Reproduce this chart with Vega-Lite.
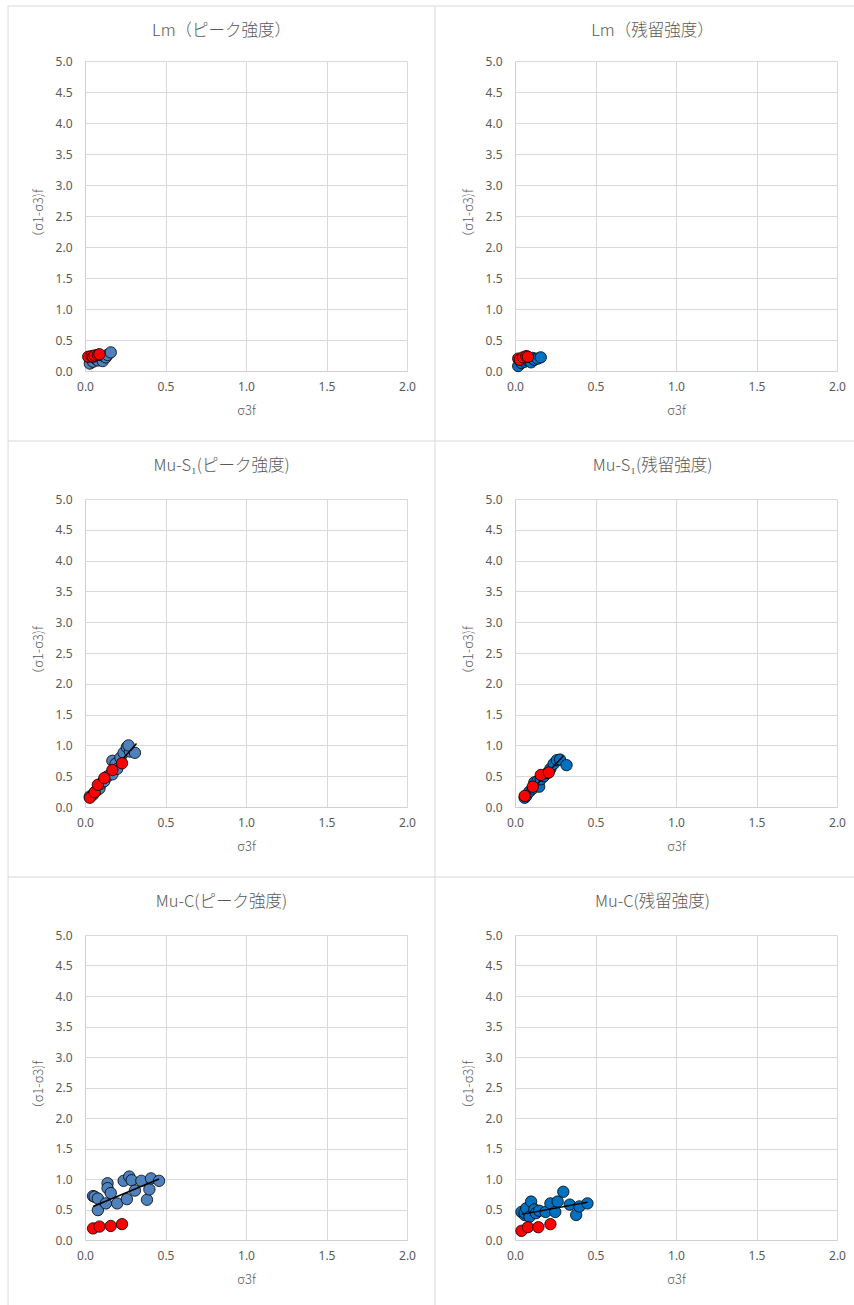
{
  "$schema": "https://vega.github.io/schema/vega-lite/v6.json",
  "background": "white",
  "padding": {"left": 7, "top": 5, "right": 0, "bottom": 0},
  "config": {
    "font": "Noto Sans",
    "view": {"stroke": null},
    "axis": {"grid": true, "labelFlush": false, "labelOverlap": false, "gridColor": "#d9d9d9", "gridWidth": 1, "domainColor": "#d0d0d0", "ticks": false, "labelColor": "#595959", "labelFontSize": 12, "labelFont": "Noto Sans", "titleColor": "#595959", "titleFontSize": 13, "titleFontWeight": 300, "titleFont": "Noto Sans CJK JP"},
    "axisX": {"labelPadding": 10, "titlePadding": 12},
    "axisY": {"labelPadding": 13, "titlePadding": 10},
    "title": {"font": "Noto Sans CJK JP", "fontSize": 16.5, "fontWeight": 300, "color": "#595959", "offset": -34, "anchor": "middle", "frame": "bounds"}
  },
  "datasets": {
    "pts": [
      {"p":1,"s":"b","x":0.03,"y":0.12},{"p":1,"s":"b","x":0.05,"y":0.15},{"p":1,"s":"b","x":0.06,"y":0.22},{"p":1,"s":"b","x":0.07,"y":0.19},{"p":1,"s":"b","x":0.08,"y":0.17},{"p":1,"s":"b","x":0.09,"y":0.25},{"p":1,"s":"b","x":0.10,"y":0.22},{"p":1,"s":"b","x":0.11,"y":0.16},{"p":1,"s":"b","x":0.12,"y":0.24},{"p":1,"s":"b","x":0.13,"y":0.22},{"p":1,"s":"b","x":0.14,"y":0.26},{"p":1,"s":"b","x":0.16,"y":0.30},
      {"p":1,"s":"r","x":0.02,"y":0.23},{"p":1,"s":"r","x":0.04,"y":0.24},{"p":1,"s":"r","x":0.05,"y":0.23},{"p":1,"s":"r","x":0.06,"y":0.25},{"p":1,"s":"r","x":0.08,"y":0.26},{"p":1,"s":"r","x":0.09,"y":0.27},
      {"p":2,"s":"b","x":0.02,"y":0.08},{"p":2,"s":"b","x":0.04,"y":0.13},{"p":2,"s":"b","x":0.05,"y":0.20},{"p":2,"s":"b","x":0.06,"y":0.15},{"p":2,"s":"b","x":0.08,"y":0.17},{"p":2,"s":"b","x":0.09,"y":0.19},{"p":2,"s":"b","x":0.10,"y":0.14},{"p":2,"s":"b","x":0.11,"y":0.21},{"p":2,"s":"b","x":0.12,"y":0.18},{"p":2,"s":"b","x":0.14,"y":0.20},{"p":2,"s":"b","x":0.16,"y":0.22},
      {"p":2,"s":"r","x":0.02,"y":0.20},{"p":2,"s":"r","x":0.03,"y":0.18},{"p":2,"s":"r","x":0.05,"y":0.22},{"p":2,"s":"r","x":0.07,"y":0.24},{"p":2,"s":"r","x":0.08,"y":0.23},
      {"p":3,"s":"b","x":0.03,"y":0.17},{"p":3,"s":"b","x":0.05,"y":0.20},{"p":3,"s":"b","x":0.07,"y":0.26},{"p":3,"s":"b","x":0.09,"y":0.30},{"p":3,"s":"b","x":0.10,"y":0.38},{"p":3,"s":"b","x":0.12,"y":0.42},{"p":3,"s":"b","x":0.14,"y":0.50},{"p":3,"s":"b","x":0.17,"y":0.53},{"p":3,"s":"b","x":0.17,"y":0.75},{"p":3,"s":"b","x":0.19,"y":0.70},{"p":3,"s":"b","x":0.20,"y":0.62},{"p":3,"s":"b","x":0.22,"y":0.80},{"p":3,"s":"b","x":0.24,"y":0.88},{"p":3,"s":"b","x":0.26,"y":0.97},{"p":3,"s":"b","x":0.28,"y":0.90},{"p":3,"s":"b","x":0.31,"y":0.88},{"p":3,"s":"b","x":0.27,"y":1.00},
      {"p":3,"s":"r","x":0.03,"y":0.15},{"p":3,"s":"r","x":0.06,"y":0.24},{"p":3,"s":"r","x":0.08,"y":0.36},{"p":3,"s":"r","x":0.12,"y":0.47},{"p":3,"s":"r","x":0.17,"y":0.60},{"p":3,"s":"r","x":0.23,"y":0.71},
      {"p":3,"s":"f","x":0.03,"y":0.18},{"p":3,"s":"f","x":0.32,"y":1.03},
      {"p":4,"s":"b","x":0.06,"y":0.15},{"p":4,"s":"b","x":0.07,"y":0.18},{"p":4,"s":"b","x":0.09,"y":0.25},{"p":4,"s":"b","x":0.11,"y":0.30},{"p":4,"s":"b","x":0.12,"y":0.40},{"p":4,"s":"b","x":0.13,"y":0.35},{"p":4,"s":"b","x":0.14,"y":0.42},{"p":4,"s":"b","x":0.15,"y":0.33},{"p":4,"s":"b","x":0.16,"y":0.45},{"p":4,"s":"b","x":0.18,"y":0.50},{"p":4,"s":"b","x":0.20,"y":0.55},{"p":4,"s":"b","x":0.22,"y":0.62},{"p":4,"s":"b","x":0.24,"y":0.70},{"p":4,"s":"b","x":0.26,"y":0.76},{"p":4,"s":"b","x":0.28,"y":0.77},{"p":4,"s":"b","x":0.32,"y":0.68},
      {"p":4,"s":"r","x":0.06,"y":0.18},{"p":4,"s":"r","x":0.11,"y":0.33},{"p":4,"s":"r","x":0.16,"y":0.52},{"p":4,"s":"r","x":0.21,"y":0.56},
      {"p":4,"s":"f","x":0.06,"y":0.15},{"p":4,"s":"f","x":0.30,"y":0.83},
      {"p":5,"s":"b","x":0.05,"y":0.72},{"p":5,"s":"b","x":0.06,"y":0.71},{"p":5,"s":"b","x":0.08,"y":0.68},{"p":5,"s":"b","x":0.08,"y":0.49},{"p":5,"s":"b","x":0.13,"y":0.60},{"p":5,"s":"b","x":0.14,"y":0.93},{"p":5,"s":"b","x":0.14,"y":0.85},{"p":5,"s":"b","x":0.16,"y":0.77},{"p":5,"s":"b","x":0.20,"y":0.60},{"p":5,"s":"b","x":0.24,"y":0.97},{"p":5,"s":"b","x":0.26,"y":0.67},{"p":5,"s":"b","x":0.275,"y":1.04},{"p":5,"s":"b","x":0.29,"y":0.98},{"p":5,"s":"b","x":0.31,"y":0.81},{"p":5,"s":"b","x":0.35,"y":0.97},{"p":5,"s":"b","x":0.385,"y":0.66},{"p":5,"s":"b","x":0.40,"y":0.83},{"p":5,"s":"b","x":0.41,"y":1.01},{"p":5,"s":"b","x":0.46,"y":0.97},
      {"p":5,"s":"r","x":0.05,"y":0.19},{"p":5,"s":"r","x":0.09,"y":0.22},{"p":5,"s":"r","x":0.16,"y":0.23},{"p":5,"s":"r","x":0.23,"y":0.26},
      {"p":5,"s":"f","x":0.05,"y":0.55},{"p":5,"s":"f","x":0.46,"y":1.0},
      {"p":6,"s":"b","x":0.04,"y":0.46},{"p":6,"s":"b","x":0.06,"y":0.41},{"p":6,"s":"b","x":0.06,"y":0.45},{"p":6,"s":"b","x":0.07,"y":0.52},{"p":6,"s":"b","x":0.09,"y":0.38},{"p":6,"s":"b","x":0.10,"y":0.63},{"p":6,"s":"b","x":0.12,"y":0.50},{"p":6,"s":"b","x":0.13,"y":0.44},{"p":6,"s":"b","x":0.15,"y":0.48},{"p":6,"s":"b","x":0.19,"y":0.46},{"p":6,"s":"b","x":0.22,"y":0.60},{"p":6,"s":"b","x":0.25,"y":0.46},{"p":6,"s":"b","x":0.265,"y":0.63},{"p":6,"s":"b","x":0.30,"y":0.79},{"p":6,"s":"b","x":0.34,"y":0.58},{"p":6,"s":"b","x":0.38,"y":0.41},{"p":6,"s":"b","x":0.40,"y":0.55},{"p":6,"s":"b","x":0.45,"y":0.60},
      {"p":6,"s":"r","x":0.04,"y":0.15},{"p":6,"s":"r","x":0.08,"y":0.21},{"p":6,"s":"r","x":0.145,"y":0.21},{"p":6,"s":"r","x":0.22,"y":0.26},
      {"p":6,"s":"f","x":0.04,"y":0.42},{"p":6,"s":"f","x":0.45,"y":0.62}
    ],
    "one": [{"k": 1}]
  },
  "columns": 2,
  "bounds": "flush",
  "spacing": {"row": 128, "column": 108},
  "concat": [
    {
      "title": {"text": "Lm（ピーク強度）", "fontWeight": 300}, "width": 322, "height": 310,
      "layer": [
        {"data": {"name": "one"}, "mark": {"type": "rule", "color": "#d9d9d9"}, "encoding": {"x": {"datum": -0.478, "type": "quantitative", "scale": {"domain": [0, 2], "nice": false}, "axis": {"values": [0, 0.5, 1, 1.5, 2], "format": ".1f", "title": "σ3f"}}, "y": {"datum": -1.129, "type": "quantitative", "scale": {"domain": [0, 5], "nice": false}, "axis": {"values": [0, 0.5, 1, 1.5, 2, 2.5, 3, 3.5, 4, 4.5, 5], "format": ".1f", "title": "（σ1-σ3)f"}}, "y2": {"datum": 5.887}}},
        {"data": {"name": "one"}, "mark": {"type": "rule", "color": "#d9d9d9"}, "encoding": {"x": {"datum": 2.174, "type": "quantitative", "scale": {"domain": [0, 2], "nice": false}, "axis": {"values": [0, 0.5, 1, 1.5, 2], "format": ".1f", "title": "σ3f"}}, "y": {"datum": -1.129, "type": "quantitative", "scale": {"domain": [0, 5], "nice": false}, "axis": {"values": [0, 0.5, 1, 1.5, 2, 2.5, 3, 3.5, 4, 4.5, 5], "format": ".1f", "title": "（σ1-σ3)f"}}, "y2": {"datum": 5.887}}},
        {"data": {"name": "one"}, "mark": {"type": "rule", "color": "#d9d9d9"}, "encoding": {"x": {"datum": -0.478, "type": "quantitative", "scale": {"domain": [0, 2], "nice": false}, "axis": {"values": [0, 0.5, 1, 1.5, 2], "format": ".1f", "title": "σ3f"}}, "x2": {"datum": 2.174}, "y": {"datum": 5.887, "type": "quantitative", "scale": {"domain": [0, 5], "nice": false}, "axis": {"values": [0, 0.5, 1, 1.5, 2, 2.5, 3, 3.5, 4, 4.5, 5], "format": ".1f", "title": "（σ1-σ3)f"}}}},
        {"data": {"name": "pts"}, "transform": [{"filter": "datum.p == 1 && datum.s == 'b'"}], "mark": {"type": "circle", "fill": "#4F81BD", "stroke": "black", "strokeWidth": 0.8, "size": 130, "opacity": 1},
         "encoding": {"x": {"field": "x", "type": "quantitative", "scale": {"domain": [0, 2], "nice": false}, "axis": {"values": [0, 0.5, 1, 1.5, 2], "format": ".1f", "title": "σ3f"}}, "y": {"field": "y", "type": "quantitative", "scale": {"domain": [0, 5], "nice": false}, "axis": {"values": [0, 0.5, 1, 1.5, 2, 2.5, 3, 3.5, 4, 4.5, 5], "format": ".1f", "title": "（σ1-σ3)f"}}}},
        {"data": {"name": "pts"}, "transform": [{"filter": "datum.p == 1 && datum.s == 'r'"}], "mark": {"type": "circle", "fill": "#FF0000", "stroke": "black", "strokeWidth": 0.8, "size": 130, "opacity": 1},
         "encoding": {"x": {"field": "x", "type": "quantitative", "scale": {"domain": [0, 2], "nice": false}, "axis": {"values": [0, 0.5, 1, 1.5, 2], "format": ".1f", "title": "σ3f"}}, "y": {"field": "y", "type": "quantitative", "scale": {"domain": [0, 5], "nice": false}, "axis": {"values": [0, 0.5, 1, 1.5, 2, 2.5, 3, 3.5, 4, 4.5, 5], "format": ".1f", "title": "（σ1-σ3)f"}}}}
      ]
    },
    {
      "title": {"text": "Lm（残留強度）", "dx": 8, "fontWeight": 300}, "width": 322, "height": 310,
      "layer": [
        {"data": {"name": "one"}, "mark": {"type": "rule", "color": "#d9d9d9"}, "encoding": {"x": {"datum": -0.497, "type": "quantitative", "scale": {"domain": [0, 2], "nice": false}, "axis": {"values": [0, 0.5, 1, 1.5, 2], "format": ".1f", "title": "σ3f"}}, "x2": {"datum": 2.106}, "y": {"datum": 5.887, "type": "quantitative", "scale": {"domain": [0, 5], "nice": false}, "axis": {"values": [0, 0.5, 1, 1.5, 2, 2.5, 3, 3.5, 4, 4.5, 5], "format": ".1f", "title": "（σ1-σ3)f"}}}},
        {"data": {"name": "pts"}, "transform": [{"filter": "datum.p == 2 && datum.s == 'b'"}], "mark": {"type": "circle", "fill": "#0070C0", "stroke": "black", "strokeWidth": 0.8, "size": 130, "opacity": 1},
         "encoding": {"x": {"field": "x", "type": "quantitative", "scale": {"domain": [0, 2], "nice": false}, "axis": {"values": [0, 0.5, 1, 1.5, 2], "format": ".1f", "title": "σ3f"}}, "y": {"field": "y", "type": "quantitative", "scale": {"domain": [0, 5], "nice": false}, "axis": {"values": [0, 0.5, 1, 1.5, 2, 2.5, 3, 3.5, 4, 4.5, 5], "format": ".1f", "title": "（σ1-σ3)f"}}}},
        {"data": {"name": "pts"}, "transform": [{"filter": "datum.p == 2 && datum.s == 'r'"}], "mark": {"type": "circle", "fill": "#FF0000", "stroke": "black", "strokeWidth": 0.8, "size": 130, "opacity": 1},
         "encoding": {"x": {"field": "x", "type": "quantitative", "scale": {"domain": [0, 2], "nice": false}, "axis": {"values": [0, 0.5, 1, 1.5, 2], "format": ".1f", "title": "σ3f"}}, "y": {"field": "y", "type": "quantitative", "scale": {"domain": [0, 5], "nice": false}, "axis": {"values": [0, 0.5, 1, 1.5, 2, 2.5, 3, 3.5, 4, 4.5, 5], "format": ".1f", "title": "（σ1-σ3)f"}}}}
      ]
    },
    {
      "title": {"text": "Mu-S₁(ピーク強度)", "fontWeight": 300}, "width": 322, "height": 308,
      "layer": [
        {"data": {"name": "one"}, "mark": {"type": "rule", "color": "#d9d9d9"}, "encoding": {"x": {"datum": -0.478, "type": "quantitative", "scale": {"domain": [0, 2], "nice": false}, "axis": {"values": [0, 0.5, 1, 1.5, 2], "format": ".1f", "title": "σ3f"}}, "y": {"datum": -1.136, "type": "quantitative", "scale": {"domain": [0, 5], "nice": false}, "axis": {"values": [0, 0.5, 1, 1.5, 2, 2.5, 3, 3.5, 4, 4.5, 5], "format": ".1f", "title": "（σ1-σ3)f"}}, "y2": {"datum": 5.942}}},
        {"data": {"name": "one"}, "mark": {"type": "rule", "color": "#d9d9d9"}, "encoding": {"x": {"datum": 2.174, "type": "quantitative", "scale": {"domain": [0, 2], "nice": false}, "axis": {"values": [0, 0.5, 1, 1.5, 2], "format": ".1f", "title": "σ3f"}}, "y": {"datum": -1.136, "type": "quantitative", "scale": {"domain": [0, 5], "nice": false}, "axis": {"values": [0, 0.5, 1, 1.5, 2, 2.5, 3, 3.5, 4, 4.5, 5], "format": ".1f", "title": "（σ1-σ3)f"}}, "y2": {"datum": 5.942}}},
        {"data": {"name": "one"}, "mark": {"type": "rule", "color": "#d9d9d9"}, "encoding": {"x": {"datum": -0.478, "type": "quantitative", "scale": {"domain": [0, 2], "nice": false}, "axis": {"values": [0, 0.5, 1, 1.5, 2], "format": ".1f", "title": "σ3f"}}, "x2": {"datum": 2.174}, "y": {"datum": 5.942, "type": "quantitative", "scale": {"domain": [0, 5], "nice": false}, "axis": {"values": [0, 0.5, 1, 1.5, 2, 2.5, 3, 3.5, 4, 4.5, 5], "format": ".1f", "title": "（σ1-σ3)f"}}}},
        {"data": {"name": "pts"}, "transform": [{"filter": "datum.p == 3 && datum.s == 'b'"}], "mark": {"type": "circle", "fill": "#4F81BD", "stroke": "black", "strokeWidth": 0.8, "size": 130, "opacity": 1},
         "encoding": {"x": {"field": "x", "type": "quantitative", "scale": {"domain": [0, 2], "nice": false}, "axis": {"values": [0, 0.5, 1, 1.5, 2], "format": ".1f", "title": "σ3f"}}, "y": {"field": "y", "type": "quantitative", "scale": {"domain": [0, 5], "nice": false}, "axis": {"values": [0, 0.5, 1, 1.5, 2, 2.5, 3, 3.5, 4, 4.5, 5], "format": ".1f", "title": "（σ1-σ3)f"}}}},
        {"data": {"name": "pts"}, "transform": [{"filter": "datum.p == 3 && datum.s == 'f'"}], "mark": {"type": "line", "color": "black", "strokeWidth": 1.5},
         "encoding": {"x": {"field": "x", "type": "quantitative", "scale": {"domain": [0, 2], "nice": false}, "axis": {"values": [0, 0.5, 1, 1.5, 2], "format": ".1f", "title": "σ3f"}}, "y": {"field": "y", "type": "quantitative", "scale": {"domain": [0, 5], "nice": false}, "axis": {"values": [0, 0.5, 1, 1.5, 2, 2.5, 3, 3.5, 4, 4.5, 5], "format": ".1f", "title": "（σ1-σ3)f"}}}},
        {"data": {"name": "pts"}, "transform": [{"filter": "datum.p == 3 && datum.s == 'r'"}], "mark": {"type": "circle", "fill": "#FF0000", "stroke": "black", "strokeWidth": 0.8, "size": 130, "opacity": 1},
         "encoding": {"x": {"field": "x", "type": "quantitative", "scale": {"domain": [0, 2], "nice": false}, "axis": {"values": [0, 0.5, 1, 1.5, 2], "format": ".1f", "title": "σ3f"}}, "y": {"field": "y", "type": "quantitative", "scale": {"domain": [0, 5], "nice": false}, "axis": {"values": [0, 0.5, 1, 1.5, 2, 2.5, 3, 3.5, 4, 4.5, 5], "format": ".1f", "title": "（σ1-σ3)f"}}}}
      ]
    },
    {
      "title": {"text": "Mu-S₁(残留強度)", "dx": 8, "fontWeight": 300}, "width": 322, "height": 308,
      "layer": [
        {"data": {"name": "one"}, "mark": {"type": "rule", "color": "#d9d9d9"}, "encoding": {"x": {"datum": -0.497, "type": "quantitative", "scale": {"domain": [0, 2], "nice": false}, "axis": {"values": [0, 0.5, 1, 1.5, 2], "format": ".1f", "title": "σ3f"}}, "x2": {"datum": 2.106}, "y": {"datum": 5.942, "type": "quantitative", "scale": {"domain": [0, 5], "nice": false}, "axis": {"values": [0, 0.5, 1, 1.5, 2, 2.5, 3, 3.5, 4, 4.5, 5], "format": ".1f", "title": "（σ1-σ3)f"}}}},
        {"data": {"name": "pts"}, "transform": [{"filter": "datum.p == 4 && datum.s == 'b'"}], "mark": {"type": "circle", "fill": "#0070C0", "stroke": "black", "strokeWidth": 0.8, "size": 130, "opacity": 1},
         "encoding": {"x": {"field": "x", "type": "quantitative", "scale": {"domain": [0, 2], "nice": false}, "axis": {"values": [0, 0.5, 1, 1.5, 2], "format": ".1f", "title": "σ3f"}}, "y": {"field": "y", "type": "quantitative", "scale": {"domain": [0, 5], "nice": false}, "axis": {"values": [0, 0.5, 1, 1.5, 2, 2.5, 3, 3.5, 4, 4.5, 5], "format": ".1f", "title": "（σ1-σ3)f"}}}},
        {"data": {"name": "pts"}, "transform": [{"filter": "datum.p == 4 && datum.s == 'f'"}], "mark": {"type": "line", "color": "black", "strokeWidth": 1.5},
         "encoding": {"x": {"field": "x", "type": "quantitative", "scale": {"domain": [0, 2], "nice": false}, "axis": {"values": [0, 0.5, 1, 1.5, 2], "format": ".1f", "title": "σ3f"}}, "y": {"field": "y", "type": "quantitative", "scale": {"domain": [0, 5], "nice": false}, "axis": {"values": [0, 0.5, 1, 1.5, 2, 2.5, 3, 3.5, 4, 4.5, 5], "format": ".1f", "title": "（σ1-σ3)f"}}}},
        {"data": {"name": "pts"}, "transform": [{"filter": "datum.p == 4 && datum.s == 'r'"}], "mark": {"type": "circle", "fill": "#FF0000", "stroke": "black", "strokeWidth": 0.8, "size": 130, "opacity": 1},
         "encoding": {"x": {"field": "x", "type": "quantitative", "scale": {"domain": [0, 2], "nice": false}, "axis": {"values": [0, 0.5, 1, 1.5, 2], "format": ".1f", "title": "σ3f"}}, "y": {"field": "y", "type": "quantitative", "scale": {"domain": [0, 5], "nice": false}, "axis": {"values": [0, 0.5, 1, 1.5, 2, 2.5, 3, 3.5, 4, 4.5, 5], "format": ".1f", "title": "（σ1-σ3)f"}}}}
      ]
    },
    {
      "title": {"text": "Mu-C(ピーク強度)", "fontWeight": 300}, "width": 322, "height": 305,
      "layer": [
        {"data": {"name": "one"}, "mark": {"type": "rule", "color": "#d9d9d9"}, "encoding": {"x": {"datum": -0.478, "type": "quantitative", "scale": {"domain": [0, 2], "nice": false}, "axis": {"values": [0, 0.5, 1, 1.5, 2], "format": ".1f", "title": "σ3f"}}, "y": {"datum": -1.066, "type": "quantitative", "scale": {"domain": [0, 5], "nice": false}, "axis": {"values": [0, 0.5, 1, 1.5, 2, 2.5, 3, 3.5, 4, 4.5, 5], "format": ".1f", "title": "（σ1-σ3)f"}}, "y2": {"datum": 5.951}}},
        {"data": {"name": "one"}, "mark": {"type": "rule", "color": "#d9d9d9"}, "encoding": {"x": {"datum": 2.174, "type": "quantitative", "scale": {"domain": [0, 2], "nice": false}, "axis": {"values": [0, 0.5, 1, 1.5, 2], "format": ".1f", "title": "σ3f"}}, "y": {"datum": -1.066, "type": "quantitative", "scale": {"domain": [0, 5], "nice": false}, "axis": {"values": [0, 0.5, 1, 1.5, 2, 2.5, 3, 3.5, 4, 4.5, 5], "format": ".1f", "title": "（σ1-σ3)f"}}, "y2": {"datum": 5.951}}},
        {"data": {"name": "one"}, "mark": {"type": "rule", "color": "#d9d9d9"}, "encoding": {"x": {"datum": -0.478, "type": "quantitative", "scale": {"domain": [0, 2], "nice": false}, "axis": {"values": [0, 0.5, 1, 1.5, 2], "format": ".1f", "title": "σ3f"}}, "x2": {"datum": 2.174}, "y": {"datum": 5.951, "type": "quantitative", "scale": {"domain": [0, 5], "nice": false}, "axis": {"values": [0, 0.5, 1, 1.5, 2, 2.5, 3, 3.5, 4, 4.5, 5], "format": ".1f", "title": "（σ1-σ3)f"}}}},
        {"data": {"name": "pts"}, "transform": [{"filter": "datum.p == 5 && datum.s == 'b'"}], "mark": {"type": "circle", "fill": "#4F81BD", "stroke": "black", "strokeWidth": 0.8, "size": 130, "opacity": 1},
         "encoding": {"x": {"field": "x", "type": "quantitative", "scale": {"domain": [0, 2], "nice": false}, "axis": {"values": [0, 0.5, 1, 1.5, 2], "format": ".1f", "title": "σ3f"}}, "y": {"field": "y", "type": "quantitative", "scale": {"domain": [0, 5], "nice": false}, "axis": {"values": [0, 0.5, 1, 1.5, 2, 2.5, 3, 3.5, 4, 4.5, 5], "format": ".1f", "title": "（σ1-σ3)f"}}}},
        {"data": {"name": "pts"}, "transform": [{"filter": "datum.p == 5 && datum.s == 'f'"}], "mark": {"type": "line", "color": "black", "strokeWidth": 1.5},
         "encoding": {"x": {"field": "x", "type": "quantitative", "scale": {"domain": [0, 2], "nice": false}, "axis": {"values": [0, 0.5, 1, 1.5, 2], "format": ".1f", "title": "σ3f"}}, "y": {"field": "y", "type": "quantitative", "scale": {"domain": [0, 5], "nice": false}, "axis": {"values": [0, 0.5, 1, 1.5, 2, 2.5, 3, 3.5, 4, 4.5, 5], "format": ".1f", "title": "（σ1-σ3)f"}}}},
        {"data": {"name": "pts"}, "transform": [{"filter": "datum.p == 5 && datum.s == 'r'"}], "mark": {"type": "circle", "fill": "#FF0000", "stroke": "black", "strokeWidth": 0.8, "size": 130, "opacity": 1},
         "encoding": {"x": {"field": "x", "type": "quantitative", "scale": {"domain": [0, 2], "nice": false}, "axis": {"values": [0, 0.5, 1, 1.5, 2], "format": ".1f", "title": "σ3f"}}, "y": {"field": "y", "type": "quantitative", "scale": {"domain": [0, 5], "nice": false}, "axis": {"values": [0, 0.5, 1, 1.5, 2, 2.5, 3, 3.5, 4, 4.5, 5], "format": ".1f", "title": "（σ1-σ3)f"}}}}
      ]
    },
    {
      "title": {"text": "Mu-C(残留強度)", "dx": 8, "fontWeight": 300}, "width": 322, "height": 305,
      "layer": [
        {"data": {"name": "one"}, "mark": {"type": "rule", "color": "#d9d9d9"}, "encoding": {"x": {"datum": -0.497, "type": "quantitative", "scale": {"domain": [0, 2], "nice": false}, "axis": {"values": [0, 0.5, 1, 1.5, 2], "format": ".1f", "title": "σ3f"}}, "x2": {"datum": 2.106}, "y": {"datum": 5.951, "type": "quantitative", "scale": {"domain": [0, 5], "nice": false}, "axis": {"values": [0, 0.5, 1, 1.5, 2, 2.5, 3, 3.5, 4, 4.5, 5], "format": ".1f", "title": "（σ1-σ3)f"}}}},
        {"data": {"name": "pts"}, "transform": [{"filter": "datum.p == 6 && datum.s == 'b'"}], "mark": {"type": "circle", "fill": "#0070C0", "stroke": "black", "strokeWidth": 0.8, "size": 130, "opacity": 1},
         "encoding": {"x": {"field": "x", "type": "quantitative", "scale": {"domain": [0, 2], "nice": false}, "axis": {"values": [0, 0.5, 1, 1.5, 2], "format": ".1f", "title": "σ3f"}}, "y": {"field": "y", "type": "quantitative", "scale": {"domain": [0, 5], "nice": false}, "axis": {"values": [0, 0.5, 1, 1.5, 2, 2.5, 3, 3.5, 4, 4.5, 5], "format": ".1f", "title": "（σ1-σ3)f"}}}},
        {"data": {"name": "pts"}, "transform": [{"filter": "datum.p == 6 && datum.s == 'f'"}], "mark": {"type": "line", "color": "black", "strokeWidth": 1.5},
         "encoding": {"x": {"field": "x", "type": "quantitative", "scale": {"domain": [0, 2], "nice": false}, "axis": {"values": [0, 0.5, 1, 1.5, 2], "format": ".1f", "title": "σ3f"}}, "y": {"field": "y", "type": "quantitative", "scale": {"domain": [0, 5], "nice": false}, "axis": {"values": [0, 0.5, 1, 1.5, 2, 2.5, 3, 3.5, 4, 4.5, 5], "format": ".1f", "title": "（σ1-σ3)f"}}}},
        {"data": {"name": "pts"}, "transform": [{"filter": "datum.p == 6 && datum.s == 'r'"}], "mark": {"type": "circle", "fill": "#FF0000", "stroke": "black", "strokeWidth": 0.8, "size": 130, "opacity": 1},
         "encoding": {"x": {"field": "x", "type": "quantitative", "scale": {"domain": [0, 2], "nice": false}, "axis": {"values": [0, 0.5, 1, 1.5, 2], "format": ".1f", "title": "σ3f"}}, "y": {"field": "y", "type": "quantitative", "scale": {"domain": [0, 5], "nice": false}, "axis": {"values": [0, 0.5, 1, 1.5, 2, 2.5, 3, 3.5, 4, 4.5, 5], "format": ".1f", "title": "（σ1-σ3)f"}}}}
      ]
    }
  ]
}
